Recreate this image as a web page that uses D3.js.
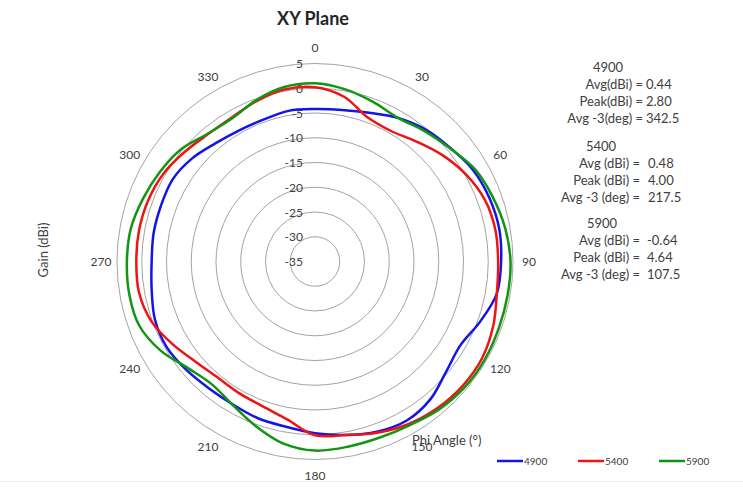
<!DOCTYPE html>
<html lang="en">
<head>
	<meta charset="UTF-8">
	<title>XY Plane</title>
	<script src="https://cdn.jsdelivr.net/npm/d3@7/dist/d3.min.js"></script>
	<style>
		body {
			margin: 0;
			background: #fff;
		}

		svg text {
			font-family: "Lato", "Open Sans", sans-serif;
			fill: #404040;
		}
	</style>
</head>
<body>
<div id="viz"></div>

<script type="text/javascript">
	// angles in degrees, clockwise from 0 at the top
	let angles = [0, 10, 20, 30, 40, 50, 60, 70, 80, 90, 100, 110, 120, 130, 140, 150, 160, 170,
		180, 190, 200, 210, 220, 230, 240, 250, 260, 270, 280, 290, 300, 310, 320, 330, 340, 350];

	// gain (dBi)
	let gain4900 = [-4.2, -3.9, -3.0, -1.5, -0.2, 0.7, 1.9, 2.5, 2.8, 2.6, 2.3, 0.5, -1.1, -0.4, 1.3, 2.1, 1.6, 0.6,
		-0.3, -1.1, -1.3, -1.7, -1.6, -1.0, -0.4, -0.6, -1.5, -2.0, -1.9, -1.9, -1.8, -2.6, -3.8, -4.4, -4.5, -4.1];
	let gain5400 = [0.2, -1.2, -4.0, -4.5, -3.3, -1.5, 0.2, 1.5, 2.0, 2.0, 2.3, 3.3, 4.0, 4.0, 3.6, 2.9, 1.8, 0.6,
		0.1, -2.6, -3.9, -4.3, -4.4, -3.5, -1.7, 0.2, 1.1, 1.1, 1.1, 0.9, 0.4, -0.6, -1.4, -1.4, -0.5, 0.3];
	let gain5900 = [1.0, 0.3, -0.7, -1.5, -0.6, 0.6, 2.3, 3.2, 4.0, 4.5, 4.5, 4.5, 4.6, 4.5, 4.0, 3.2, 2.9, 3.0,
		3.2, 2.3, 0.3, -1.6, -2.6, -1.5, 1.0, 2.8, 3.1, 3.0, 2.8, 2.0, 1.2, 0.3, -1.3, -1.6, -0.3, 0.8];

	let seriesNames = ['4900', '5400', '5900'];
	let seriesColors = ['#1414e6', '#ee1414', '#139413'];

	let ringTicks = [5, 0, -5, -10, -15, -20, -25, -30, -35];
	let angleTicks = [0, 30, 60, 90, 120, 150, 180, 210, 240, 270, 300, 330];

	let noteHeads = ['4900', '5400', '5900'];
	let noteLabels = [
		['Avg(dBi) =', 'Peak(dBi) =', 'Avg -3(deg) ='],
		['Avg (dBi) =', 'Peak (dBi) =', 'Avg -3 (deg) ='],
		['Avg (dBi) =', 'Peak (dBi) =', 'Avg -3 (deg) =']
	];
	let noteValues = [
		['0.44', '2.80', '342.5'],
		['0.48', '4.00', '217.5'],
		['-0.64', '4.64', '107.5']
	];

	window.onload = () => {

		let width = 743, height = 487;
		let cx = 315, cy = 261.5, outer = 198;

		let svg = d3.select('#viz')
			.append('svg')
			.attr('width', width)
			.attr('height', height);

		svg.append('rect')
			.attr('width', width)
			.attr('height', height)
			.attr('fill', '#fff');

		// faint bottom border of the chart area
		svg.append('line')
			.attr('x1', 0).attr('x2', width)
			.attr('y1', 481.5).attr('y2', 481.5)
			.attr('stroke', '#ececec');

		let r = d3.scaleLinear()
			.domain([-35, 5])
			.range([0, outer]);

		let g = svg.append('g')
			.attr('transform', 'translate(' + cx + ',' + cy + ')');

		// rings
		g.selectAll('.ring')
			.data(ringTicks.filter(d => r(d) > 0))
			.enter().append('circle')
			.attr('class', 'ring')
			.attr('r', d => r(d))
			.attr('fill', 'none')
			.attr('stroke', '#a3a3a3')
			.attr('stroke-width', 1);

		// ring labels
		g.selectAll('.ringLabel')
			.data(ringTicks)
			.enter().append('text')
			.attr('class', 'ringLabel')
			.attr('x', -12)
			.attr('y', d => -r(d))
			.attr('text-anchor', 'end')
			.attr('dominant-baseline', 'central')
			.style('font-size', '12px')
			.text(d => d);

		// angle labels
		g.selectAll('.angleLabel')
			.data(angleTicks)
			.enter().append('text')
			.attr('class', 'angleLabel')
			.attr('x', d => (outer + 16) * Math.sin(d * Math.PI / 180))
			.attr('y', d => -(outer + 16) * Math.cos(d * Math.PI / 180))
			.attr('text-anchor', 'middle')
			.attr('dominant-baseline', 'central')
			.style('font-size', '12px')
			.text(d => d);

		// series
		let line = d3.lineRadial()
			.angle(d => d[0] * Math.PI / 180)
			.radius(d => r(d[1]))
			.curve(d3.curveCatmullRomClosed);

		let series = [gain4900, gain5400, gain5900];

		g.selectAll('.series')
			.data(series)
			.enter().append('path')
			.attr('class', 'series')
			.attr('d', d => line(angles.map((a, i) => [a, d[i]])))
			.attr('fill', 'none')
			.attr('stroke', (d, i) => seriesColors[i])
			.attr('stroke-width', 2.5);

		// title
		svg.append('text')
			.attr('x', 313)
			.attr('y', 25)
			.attr('text-anchor', 'middle')
			.style('font-size', '18px')
			.style('font-weight', 'bold')
			.style('fill', '#262626')
			.text('XY Plane');

		// axis titles
		svg.append('text')
			.attr('transform', 'translate(48,250) rotate(-90)')
			.attr('text-anchor', 'middle')
			.style('font-size', '13px')
			.text('Gain (dBi)');

		svg.append('text')
			.attr('x', 412)
			.attr('y', 445)
			.style('font-size', '13px')
			.text('Phi Angle (°)');

		// notes at the right
		let headX = [608, 601, 602];
		let headY = [67, 146, 223];
		let eqX = [643, 640, 640];
		let valX = [646, 648, 647];

		noteHeads.forEach((h, k) => {
			svg.append('text')
				.attr('x', headX[k])
				.attr('y', headY[k])
				.attr('text-anchor', 'middle')
				.attr('dominant-baseline', 'central')
				.style('font-size', '13px')
				.text(h);

			noteLabels[k].forEach((t, j) => {
				let y = headY[k] + 17 + j * 17;
				svg.append('text')
					.attr('x', eqX[k])
					.attr('y', y)
					.attr('text-anchor', 'end')
					.attr('dominant-baseline', 'central')
					.style('font-size', '13px')
					.text(t);
				svg.append('text')
					.attr('x', valX[k])
					.attr('y', y)
					.attr('dominant-baseline', 'central')
					.style('font-size', '13px')
					.text(noteValues[k][j]);
			});
		});

		// legend
		let legendX = [497, 578, 659];

		let legend = svg.selectAll('.legend')
			.data(seriesNames)
			.enter().append('g')
			.attr('class', 'legend')
			.attr('transform', (d, i) => 'translate(' + legendX[i] + ',461)');

		legend.append('line')
			.attr('x1', 0).attr('x2', 26)
			.attr('stroke', (d, i) => seriesColors[i])
			.attr('stroke-width', 2.5);

		legend.append('text')
			.attr('x', 27)
			.attr('dominant-baseline', 'central')
			.style('font-size', '10px')
			.text(d => d);
	};
</script>
</body>
</html>
